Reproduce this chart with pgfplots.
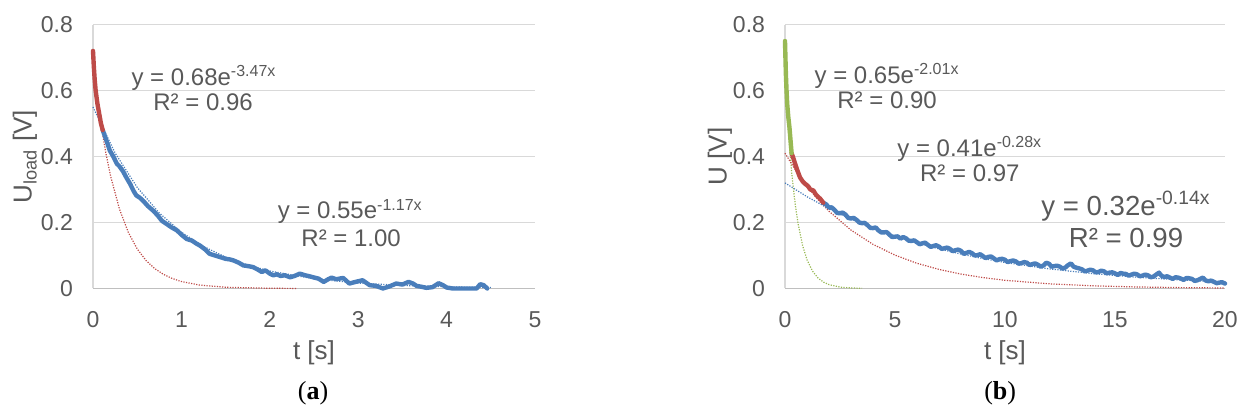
\documentclass[border=0pt]{standalone}
\usepackage{fontspec}
\setmainfont{Liberation Sans}
\newfontfamily\capfont{Liberation Serif}
\usepackage{pgfplots}
\pgfplotsset{compat=1.18}
\definecolor{txt}{HTML}{595959}
\definecolor{gridc}{HTML}{D9D9D9}
\definecolor{axc}{HTML}{BFBFBF}
\definecolor{sblue}{HTML}{4A7EBB}
\definecolor{sred}{HTML}{BE4B48}
\definecolor{sgreen}{HTML}{98B954}
\pgfplotsset{
  mystyle/.style={
    scale only axis, height=132pt,
    ymin=0, ymax=0.8,
    ytick={0,0.2,0.4,0.6,0.8},
    yticklabels={0,0.2,0.4,0.6,0.8},
    axis x line=bottom, axis y line=left,
    axis line style={draw=axc, line width=0.8pt, -},
    x axis line style={draw=axc},
    y axis line style={draw=gridc},
    major tick length=0pt,
    ymajorgrids, grid style={draw=gridc, line width=0.8pt},
    tick label style={font=\fontsize{11.5}{13}\selectfont, text=txt},
    xticklabel style={yshift=-8pt},
    yticklabel style={xshift=-6.5pt},
    /pgf/number format/assume math mode=true,
    clip=false,
  },
  data/.style={line width=2.2pt, line join=round, line cap=round},
  trend/.style={line width=0.6pt, dash pattern=on 0.6pt off 0.7pt},
}
\newcommand{\eqf}{\fontsize{12}{14}\selectfont\color{txt}}
\begin{document}
\begin{tikzpicture}
\path[use as bounding box] (0,0) rectangle (625pt,208.5pt);
% ---------------- panel (a)
\begin{axis}[mystyle, at={(46.5pt,64.25pt)}, anchor=south west, width=221pt,
  xmin=0, xmax=5, xtick={0,1,2,3,4,5}]
\addplot[trend, sred] coordinates {(0,0.68)(0.05,0.5717)(0.1,0.4806)(0.15,0.4041)(0.2,0.3397)(0.3,0.2401)(0.4,0.1697)(0.5,0.1200)(0.6,0.0848)(0.7,0.0599)(0.8,0.0424)(0.9,0.0299)(1.0,0.0211)(1.2,0.0106)(1.5,0.0037)(2.0,0.0007)(2.3,0.0002)};
\addplot[trend, sblue] coordinates {(0,0.55)(0.25,0.4105)(0.5,0.3064)(0.75,0.2287)(1.0,0.1707)(1.25,0.1274)(1.5,0.0951)(1.75,0.0710)(2.0,0.0530)(2.5,0.0295)(3.0,0.0165)(3.5,0.0092)(4.0,0.0051)(4.5,0.0028)};
\addplot[data, sblue] coordinates {(0.11,0.48)(0.15,0.45)(0.19,0.418)(0.23,0.40)(0.27,0.378)(0.30,0.37)(0.34,0.355)(0.38,0.335)(0.42,0.317)(0.46,0.295)(0.49,0.282)(0.53,0.275)(0.57,0.265)(0.62,0.25)(0.68,0.236)(0.73,0.222)(0.78,0.205)(0.83,0.196)(0.89,0.185)(0.95,0.176)(1.0,0.163)(1.06,0.15)(1.12,0.145)(1.17,0.136)(1.21,0.13)(1.27,0.118)(1.32,0.105)(1.38,0.1)(1.44,0.095)(1.5,0.09)(1.55,0.088)(1.59,0.085)(1.65,0.078)(1.70,0.07)(1.75,0.068)(1.81,0.065)(1.86,0.058)(1.91,0.05)(1.95,0.055)(2.0,0.045)(2.04,0.04)(2.08,0.043)(2.12,0.038)(2.17,0.04)(2.23,0.034)(2.28,0.038)(2.34,0.045)(2.40,0.04)(2.45,0.037)(2.49,0.034)(2.55,0.03)(2.61,0.02)(2.66,0.028)(2.7,0.033)(2.75,0.028)(2.79,0.03)(2.83,0.032)(2.9,0.015)(2.97,0.02)(3.05,0.025)(3.13,0.01)(3.2,0.008)(3.28,0.0)(3.35,0.006)(3.43,0.015)(3.5,0.012)(3.57,0.02)(3.62,0.015)(3.66,0.008)(3.72,0.005)(3.77,0.002)(3.84,0.004)(3.91,0.016)(3.96,0.01)(4.0,0.003)(4.07,0)(4.2,0)(4.34,0)(4.38,0.013)(4.42,0.01)(4.46,0)};
\addplot[data, sred] coordinates {(0,0.72)(0.01,0.67)(0.02,0.63)(0.03,0.6)(0.05,0.56)(0.07,0.53)(0.09,0.5)(0.11,0.48)};
\node[font=\eqf] at (axis cs:1.256,0.639) {y = 0.68e\textsuperscript{-3.47x}};
\node[font=\eqf] at (axis cs:1.245,0.564) {R² = 0.96};
\node[font=\eqf] at (axis cs:2.91,0.233) {y = 0.55e\textsuperscript{-1.17x}};
\node[font=\eqf] at (axis cs:2.92,0.152) {R² = 1.00};
\node[font=\fontsize{13}{15}\selectfont, text=txt] at (rel axis cs:0.5,0) [yshift=-32pt] {t [s]};
\node[font=\fontsize{13}{15}\selectfont, text=txt, rotate=90] at (rel axis cs:0,0.5) [xshift=0pt, yshift=34pt] {U\textsubscript{load} [V]};
\node[font=\capfont\fontsize{13}{15}\selectfont] at (rel axis cs:0.498,0) [yshift=-52.5pt] {(\textbf{a})};
\end{axis}
% ---------------- panel (b)
\begin{axis}[mystyle, at={(392.5pt,64.25pt)}, anchor=south west, width=220pt,
  xmin=0, xmax=20, xtick={0,5,10,15,20}]
\addplot[trend, sgreen] coordinates {(0,0.65)(0.1,0.5316)(0.2,0.4349)(0.3,0.3557)(0.4,0.2909)(0.5,0.2379)(0.6,0.1946)(0.8,0.1302)(1.0,0.0871)(1.25,0.0527)(1.5,0.0319)(1.75,0.0193)(2.0,0.0117)(2.5,0.0043)(3.0,0.0016)(3.5,0.0006)};
\addplot[trend, sred] coordinates {(0,0.41)(0.5,0.3565)(1,0.3099)(1.5,0.2694)(2,0.2342)(3,0.1770)(4,0.1338)(5,0.1011)(6,0.0764)(7,0.0578)(8,0.0437)(9,0.0330)(10,0.0249)(12,0.0142)(14,0.0081)(16,0.0046)(18,0.0027)(20,0.0015)};
\addplot[trend, sblue] coordinates {(0,0.32)(1,0.2782)(2,0.2419)(3,0.2102)(4,0.1828)(5,0.1589)(6,0.1381)(7,0.1201)(8,0.1044)(9,0.0908)(10,0.0789)(12,0.0596)(14,0.0451)(16,0.0341)(18,0.0258)(20,0.0195)};
\addplot[data, sblue] coordinates {(1.74,0.260)(1.87,0.255)(2.0,0.245)(2.12,0.246)(2.25,0.238)(2.37,0.229)(2.5,0.228)(2.62,0.230)(2.75,0.224)(2.87,0.214)(3.0,0.212)(3.12,0.214)(3.25,0.208)(3.37,0.200)(3.5,0.198)(3.62,0.199)(3.75,0.192)(3.87,0.184)(4.0,0.183)(4.12,0.185)(4.25,0.176)(4.37,0.170)(4.5,0.170)(4.62,0.171)(4.75,0.163)(4.87,0.156)(5.0,0.157)(5.12,0.158)(5.25,0.151)(5.37,0.156)(5.5,0.152)(5.62,0.145)(5.75,0.144)(5.87,0.146)(6.0,0.140)(6.12,0.134)(6.25,0.137)(6.37,0.139)(6.5,0.132)(6.62,0.126)(6.75,0.129)(6.87,0.131)(7.0,0.127)(7.12,0.120)(7.25,0.122)(7.37,0.124)(7.5,0.120)(7.62,0.113)(7.75,0.116)(7.87,0.118)(8.0,0.114)(8.12,0.105)(8.25,0.108)(8.37,0.111)(8.5,0.107)(8.62,0.100)(8.75,0.101)(8.87,0.104)(9.0,0.098)(9.12,0.092)(9.25,0.096)(9.37,0.097)(9.5,0.091)(9.62,0.085)(9.75,0.089)(9.87,0.090)(10.0,0.087)(10.12,0.080)(10.25,0.083)(10.37,0.085)(10.5,0.082)(10.62,0.075)(10.75,0.077)(10.87,0.080)(11.0,0.078)(11.12,0.071)(11.25,0.074)(11.37,0.076)(11.5,0.072)(11.62,0.066)(11.75,0.070)(11.87,0.078)(12.0,0.075)(12.12,0.066)(12.25,0.068)(12.37,0.069)(12.5,0.066)(12.62,0.060)(12.75,0.064)(12.87,0.071)(13.0,0.076)(13.12,0.066)(13.25,0.063)(13.37,0.061)(13.5,0.058)(13.62,0.052)(13.75,0.054)(13.87,0.057)(14.0,0.055)(14.12,0.049)(14.25,0.050)(14.37,0.054)(14.5,0.052)(14.62,0.046)(14.75,0.048)(14.87,0.049)(15.0,0.046)(15.12,0.041)(15.25,0.047)(15.37,0.045)(15.5,0.044)(15.62,0.039)(15.75,0.042)(15.87,0.045)(16.0,0.043)(16.12,0.037)(16.25,0.039)(16.37,0.042)(16.5,0.040)(16.62,0.034)(16.75,0.036)(16.87,0.042)(17.0,0.048)(17.12,0.038)(17.25,0.035)(17.37,0.037)(17.5,0.033)(17.62,0.029)(17.75,0.034)(17.87,0.033)(18.0,0.030)(18.12,0.026)(18.25,0.032)(18.37,0.031)(18.5,0.029)(18.62,0.023)(18.75,0.025)(18.87,0.029)(19.0,0.033)(19.12,0.024)(19.25,0.022)(19.37,0.024)(19.5,0.020)(19.62,0.016)(19.75,0.018)(19.87,0.019)(20.0,0.015)};
\addplot[data, sred] coordinates {(0.3,0.41)(0.38,0.395)(0.45,0.38)(0.55,0.36)(0.68,0.337)(0.8,0.325)(0.9,0.318)(1.05,0.31)(1.15,0.30)(1.29,0.297)(1.4,0.285)(1.5,0.278)(1.6,0.272)(1.74,0.26)};
\addplot[data, sgreen] coordinates {(0,0.75)(0.02,0.70)(0.04,0.65)(0.07,0.6)(0.1,0.56)(0.15,0.52)(0.2,0.49)(0.25,0.45)(0.3,0.41)};
\node[font=\eqf] at (axis cs:4.64,0.645) {y = 0.65e\textsuperscript{-2.01x}};
\node[font=\eqf] at (axis cs:4.64,0.570) {R² = 0.90};
\node[font=\eqf] at (axis cs:8.4,0.424) {y = 0.41e\textsuperscript{-0.28x}};
\node[font=\eqf] at (axis cs:8.4,0.348) {R² = 0.97};
\node[font=\fontsize{13.8}{16}\selectfont, text=txt] at (axis cs:15.5,0.25) {y = 0.32e\textsuperscript{-0.14x}};
\node[font=\fontsize{13.8}{16}\selectfont, text=txt] at (axis cs:15.5,0.152) {R² = 0.99};
\node[font=\fontsize{13}{15}\selectfont, text=txt] at (rel axis cs:0.5,0) [yshift=-32pt] {t [s]};
\node[font=\fontsize{13}{15}\selectfont, text=txt, rotate=90] at (rel axis cs:0,0.5) [yshift=32.5pt] {U [V]};
\node[font=\capfont\fontsize{13}{15}\selectfont] at (rel axis cs:0.489,0) [yshift=-52.5pt] {(\textbf{b})};
\end{axis}
\end{tikzpicture}
\end{document}
